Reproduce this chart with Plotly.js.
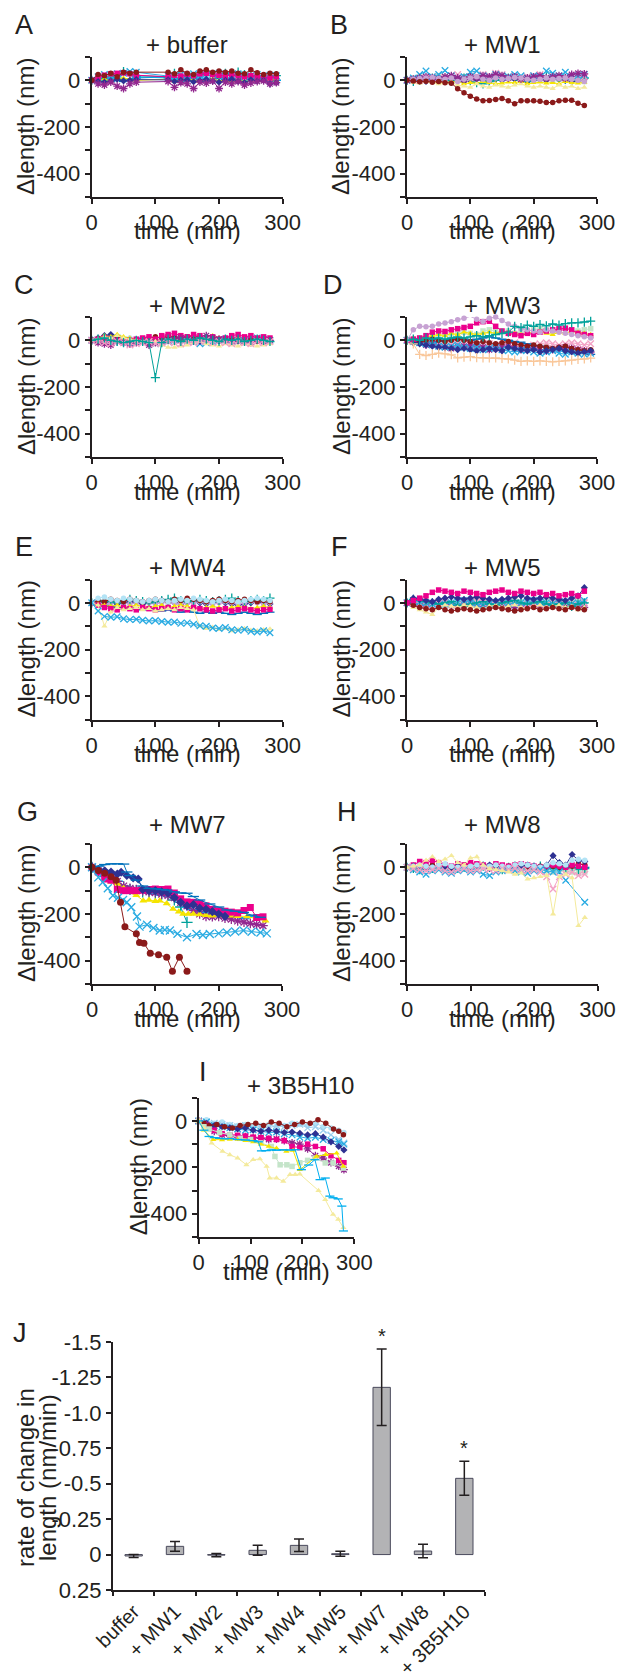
<!DOCTYPE html>
<html><head><meta charset="utf-8">
<script src="https://cdn.plot.ly/plotly-3.0.1.min.js"></script>
<style>html,body{margin:0;padding:0;background:#fff}#chart{width:621px;height:1673px}</style>
</head><body><div id="chart"></div>
<script>
// ---------------- time vectors (min) ----------------
const timeA = [0,10,20,30,40,50,60,70,120,130,140,150,160,170,180,190,200,210,220,230,240,250,260,270,280,290];
const time29 = [0,10,20,30,40,50,60,70,80,90,100,110,120,130,140,150,160,170,180,190,200,210,220,230,240,250,260,270,280];
const time30 = [0,10,20,30,40,50,60,70,80,90,100,110,120,130,140,150,160,170,180,190,200,210,220,230,240,250,260,270,280,290];
const time28 = [0,10,20,30,40,50,60,70,80,90,100,110,120,130,140,150,160,170,180,190,200,210,220,230,240,250,260,270];

// ---------------- A: + buffer (nm) ----------------
const aBlue = [0,-2,5,10,0,-5,5,10,15,5,-5,0,10,5,-5,0,10,-5,0,5,15,5,0,10,5,0];
const aSky  = [0,5,0,-5,10,5,-3,15,10,0,5,-5,10,15,0,5,-5,10,5,0,-5,10,0,5,-5,0];
const aTeal = [0,5,10,15,20,38,25,20,15,30,10,20,15,25,35,20,15,30,20,35,25,15,20,10,15,20];
const aYel  = [0,3,5,-2,8,10,5,0,5,-3,2,8,0,-5,3,6,-2,0,-8,2,-5,0,3,-2,5,0];
const aCyan = [0,15,25,20,28,30,38,35,20,15,25,20,28,22,18,25,30,20,22,28,15,20,25,18,22,20];
const aMag  = [0,12,22,28,30,32,28,22,15,22,18,25,20,28,30,25,22,18,24,20,15,20,18,12,10,15];
const aNav  = [0,-5,-8,-3,5,-2,0,3,2,-5,0,3,-6,-2,4,-3,-8,0,5,-4,-10,2,-3,0,-15,-10];
const aPur  = [0,-15,-20,-8,-25,-35,-15,-8,-5,-30,-10,-15,-35,-8,-12,-3,-35,-8,-15,-5,-20,-12,-5,-2,-15,-10];
const aBrn  = [0,25,20,30,15,35,30,35,35,28,45,30,25,40,45,35,40,35,40,30,28,45,32,25,30,28];

// ---------------- B: + MW1 ----------------
const bBrn  = [0,-3,-6,-4,-8,-5,-10,-12,-36,-53,-68,-80,-87,-86,-82,-78,-88,-100,-88,-88,-88,-90,-95,-95,-88,-85,-85,-98,-108];
const bLyel = [0,-10,-12,-5,-10,-15,-12,-10,-20,-25,-30,-15,-25,-30,-20,-25,-30,-20,-15,-25,-30,-25,-30,-35,-20,-30,-25,-35,-30];
const bCyan = [0,10,25,40,15,25,42,20,10,15,35,40,20,15,25,20,15,25,20,10,20,15,40,30,20,35,15,20,25];
const bPur  = [0,5,10,15,10,5,15,20,10,5,15,10,20,15,25,20,10,15,5,10,15,20,10,15,20,10,25,30,28];
const bLav  = [0,5,8,10,12,8,5,10,-5,5,10,15,5,0,10,5,8,12,10,5,0,5,10,5,8,10,5,0,-5];
const bYel  = [0,-5,-10,0,-5,-8,-10,-5,-5,-15,-10,-12,-5,-10,-15,-12,-8,-10,-5,-15,-10,-8,-12,-10,-15,-5,-10,-12,-8];
const bPink = [0,5,0,10,15,10,5,20,25,15,10,20,25,20,30,25,15,20,10,15,20,25,10,15,20,10,15,20,15];
const bTeal = [0,-5,0,5,10,5,0,-5,5,10,0,-10,-15,-5,0,5,10,5,0,-5,5,10,15,5,10,5,0,5,10];
const bNav  = [0,0,5,-5,0,5,10,0,5,-5,0,5,0,-5,5,0,10,5,0,-5,0,5,0,10,5,0,-5,0,5];
const bLgrn = [0,10,15,5,10,20,15,10,5,15,20,10,5,15,10,20,15,10,5,10,15,5,10,0,5,10,5,0,-5];

// ---------------- C: + MW2 ----------------
const cTeal  = [0,5,10,0,-5,-10,-5,0,-5,-10,-160,-10,5,0,-5,5,0,10,5,0,-5,5,0,5,-5,0,5,0,-5];
const cLyel  = [0,5,15,10,20,10,5,0,-5,-10,-5,-20,-30,-30,-25,-20,-10,-5,-15,-20,-25,-15,-20,-25,-15,-20,-25,-20,-15];
const cMag   = [0,5,10,5,0,-5,0,5,10,15,5,20,25,30,20,15,25,20,10,15,5,10,20,25,15,20,10,15,10];
const cNav   = [0,10,20,25,15,-10,-15,-5,0,5,0,5,10,5,-5,0,5,-5,0,5,-5,0,5,-5,0,5,0,-5,0];
const cYel   = [0,10,20,15,25,15,10,5,0,10,5,0,10,5,0,-5,5,10,15,20,10,0,5,10,0,5,-5,0,5];
const cBrn   = [0,5,0,-5,5,0,-5,0,5,10,15,10,20,15,10,15,20,10,5,10,5,0,5,0,5,0,-5,0,5];
const cPur   = [0,-10,-15,-20,-5,-10,-15,-10,-5,-20,-10,-5,0,5,10,5,0,5,20,10,5,0,-5,0,-5,-10,0,-5,0];
const cPink  = [0,-5,-10,-15,-5,-10,-20,-15,-10,-5,-15,-10,-5,-10,-15,-5,-10,-5,0,-10,-5,-10,-15,-5,-10,-15,-5,-10,-5];
const cLcyan = [0,5,10,5,0,5,10,5,0,5,0,5,10,5,0,5,0,-5,5,0,5,10,5,0,5,0,5,-5,0];
const cCyan  = [0,0,-5,5,10,0,-10,-5,0,-5,-15,-10,-5,0,5,0,-5,-15,-10,-5,0,5,0,-5,0,5,10,5,0];

// ---------------- D: + MW3 ----------------
const dTeal  = [0,5,0,10,5,10,5,10,15,10,15,20,15,20,25,30,35,60,55,65,60,68,62,70,65,72,75,75,78,82];
const dMag   = [0,5,10,20,35,40,38,45,50,55,60,75,80,82,60,40,30,25,20,30,25,35,40,45,50,52,45,30,25,20];
const dLav   = [0,45,60,58,60,70,74,80,88,95,103,90,81,95,100,85,70,60,50,45,40,35,45,40,35,30,25,20,15,10];
const dPeach = [0,-15,-60,-65,-60,-55,-58,-62,-75,-72,-70,-74,-75,-76,-75,-78,-80,-85,-90,-88,-90,-88,-90,-92,-90,-88,-85,-82,-80,-76];
const dNav   = [0,-10,-15,-20,-25,-30,-30,-35,-40,-35,-40,-45,-40,-35,-40,-45,-30,-35,-40,-45,-40,-50,-45,-40,-35,-45,-50,-55,-50,-45];
const dBrn   = [0,-5,-10,0,5,0,-5,0,5,0,-5,-10,-5,-10,-15,-10,-5,-15,-20,-25,-20,-25,-30,-35,-30,-25,-35,-40,-45,-40];
const dYel   = [0,10,5,15,20,25,20,30,25,35,30,25,30,35,30,40,35,30,25,30,35,40,30,25,35,30,40,35,30,25];
const dLgrn  = [0,5,10,15,20,15,25,20,30,35,30,25,40,45,40,35,40,30,35,40,45,50,45,40,45,50,45,40,45,50];
const dCyan  = [0,-5,-10,-15,-20,-25,-30,-25,-20,-30,-35,-30,-40,-35,-30,-40,-45,-50,-45,-40,-50,-55,-50,-45,-55,-60,-50,-55,-60,-55];
const dPur   = [0,-5,-10,-20,-15,-25,-30,-35,-30,-25,-20,-25,-30,-40,-35,-30,-25,-35,-40,-30,-35,-40,-45,-40,-35,-30,-35,-40,-45,-50];
const dBlue  = [0,5,0,-5,-10,-5,0,5,10,5,0,5,10,15,10,5,0,-5,-8,-15,-22,-25,-30,-38,-40,-42,-50,-55,-52,-60];
const dPink  = [0,-5,-8,-10,-15,-12,-20,-15,-10,-15,-20,-25,-20,-15,-25,-20,-15,-10,-20,-25,-20,-15,-10,-15,-20,-15,-10,-15,-20,-15];

// ---------------- E: + MW4 ----------------
const eCyan  = [0,-35,-58,-62,-60,-68,-72,-70,-75,-78,-76,-80,-83,-82,-88,-86,-92,-98,-100,-108,-110,-106,-115,-118,-114,-122,-125,-120,-128];
const eLyel  = [0,-10,-100,-40,-20,-30,-25,-20,-30,-25,-35,-30,-25,-30,-20,-25,-30,-100,-110,-105,-115,-110,-120,-115,-110,-118,-120,-115,-112];
const eMag   = [0,-10,-20,-25,-30,-20,-25,-30,-20,-25,-30,-25,-20,-30,-25,-30,-20,-25,-30,-35,-30,-25,-35,-30,-25,-30,-35,-30,-28];
const eYel   = [0,-5,-10,-15,-10,-20,-15,-10,-15,-20,-15,-10,-20,-15,-10,-15,-20,-25,-20,-15,-20,-25,-20,-15,-20,-25,-20,-15,-20];
const eBrn   = [0,10,5,15,10,5,15,10,5,10,15,10,5,15,10,20,15,10,5,10,15,10,5,10,15,10,5,10,5];
const eTeal  = [0,5,10,5,0,10,15,10,5,0,5,10,15,20,10,5,10,15,10,5,10,15,20,10,5,10,15,10,20];
const eLav   = [0,0,-5,0,5,0,-5,0,5,0,-5,0,5,0,-5,0,0,5,0,-5,0,5,0,-5,0,5,0,-5,0];
const eLcyan = [0,20,25,15,10,20,15,10,5,10,15,10,5,10,15,10,20,15,10,5,10,15,10,5,10,15,20,15,10];
const eNav   = [0,-5,0,5,-5,0,5,0,-5,0,5,10,5,0,-5,0,5,0,-5,0,5,0,-5,-10,-5,0,5,0,-5];
const eBlue  = [0,-5,-10,-15,-20,-25,-20,-25,-30,-25,-30,-35,-30,-35,-40,-35,-40,-45,-40,-45,-40,-45,-50,-45,-40,-45,-50,-45,-40];

// ---------------- F: + MW5 ----------------
const fMag  = [0,10,20,30,45,55,50,45,40,50,45,40,35,45,50,55,45,40,50,45,40,45,35,40,30,35,40,30,50];
const fBrn  = [0,-10,-20,-25,-30,-20,-30,-35,-30,-25,-30,-35,-30,-25,-20,-25,-30,-35,-30,-25,-20,-30,-25,-20,-25,-30,-20,-25,-30];
const fLyel = [0,-20,-30,-40,-50,-20,-10,-15,-20,-10,-15,-20,-25,-15,-10,-20,-15,-10,-20,-25,-15,-10,-20,-15,-10,-20,-15,-30,-20];
const fNav  = [0,20,15,10,5,15,20,25,20,15,20,25,20,15,10,15,20,25,30,20,15,20,25,20,15,10,20,30,65];
const fTeal = [0,15,10,5,0,-5,0,5,-10,-15,-5,0,5,-5,-10,0,5,10,0,-5,0,5,-5,-10,-5,0,-15,-5,0];
const fCyan = [0,10,5,0,-5,-10,-5,0,5,10,0,-5,-10,-5,0,5,0,-5,0,5,10,5,0,-5,0,5,-5,0,10];
const fPink = [0,5,-5,-10,-15,-5,0,-5,-10,-5,0,5,0,-5,-10,0,5,0,-10,-5,0,-5,-10,0,5,0,-5,-10,0];
const fPur  = [0,-5,-10,-5,0,5,-5,-10,-15,-10,-5,-10,-15,-10,-5,-10,-15,-20,-15,-10,-5,-10,-15,-10,-5,-10,-15,-10,-20];
const fLgrn = [0,5,10,5,0,10,5,0,5,10,15,10,5,10,5,0,5,10,5,0,5,10,15,10,5,0,5,10,5];
const fYel  = [0,5,0,-5,0,5,10,5,0,-5,0,5,0,10,5,0,-5,0,5,0,-5,0,5,10,5,0,-5,0,5];

// ---------------- G: + MW7 ----------------
const gBrnT  = [0,10,20,30,38,45,52,70,75,82,92,105,118,127,138,150];
const gBrnV  = [0,-14,-25,-40,-55,-150,-255,-285,-322,-325,-368,-375,-385,-445,-385,-445];
const gCyanT = [0,10,17,25,33,41,49,55,62,71,75,87,97,107,115,123,135,150,165,175,186,200,213,226,239,252,266,276];
const gCyanV = [0,-43,-64,-90,-121,-130,-140,-150,-171,-211,-254,-246,-260,-271,-268,-271,-285,-300,-286,-290,-286,-283,-279,-275,-271,-276,-279,-283];
const gNavLT = [0,10,20,30,40,50,55,60,70,80,90,100,110,118,130,140,150,160,170,186,200,213,226,239,252,266];
const gNavLV = [0,5,12,15,15,14,-20,-35,-55,-80,-90,-92,-95,-97,-105,-110,-111,-125,-140,-157,-170,-183,-188,-193,-205,-214];
const gNavDT = [0,10,20,30,40,46,55,65,73,80,90,100,110,120,130,140,150,160,170,180,190,200,210];
const gNavDV = [0,-10,-15,-20,-29,-21,-35,-45,-50,-95,-100,-100,-105,-110,-130,-150,-165,-160,-175,-180,-190,-200,-210];
const gMagV  = [0,-20,-50,-55,-95,-100,-100,-100,-98,-95,-93,-95,-93,-110,-135,-148,-150,-155,-165,-180,-186,-188,-192,-195,-185,-172,-215,-212];
const gYelT  = [0,10,20,30,40,50,57,70,81,90,100,107,118,128,137,144,152,160,170,180,189,200,210,218,230,245,260,274];
const gYelV  = [0,-10,-30,-62,-70,-90,-107,-120,-143,-140,-145,-143,-155,-179,-190,-200,-200,-200,-202,-205,-207,-205,-208,-207,-210,-211,-220,-229];
const gPurV  = [0,-15,-25,-40,-60,-80,-90,-95,-100,-105,-108,-115,-120,-130,-150,-165,-185,-200,-210,-212,-210,-218,-222,-230,-235,-240,-245,-250];
const gTealT = [0,10,20,30,40,50,60,70,80,90,100,110,120,130,140,150];
const gTealV = [0,-15,-30,-45,-60,-85,-95,-100,-105,-110,-112,-115,-120,-140,-170,-236];
const gSkyT  = [0,10,20,30,40,50,60,70,80,90,100,110,120,130,140,150,160,170,180,190,200,210,220,230,240,250];
const gSkyV  = [0,-20,-40,-55,-60,-80,-95,-100,-105,-110,-115,-120,-125,-130,-150,-170,-180,-190,-195,-200,-202,-205,-210,-215,-220,-210];

// ---------------- H: + MW8 ----------------
const hLyel  = [0,5,10,30,45,25,35,50,20,10,40,45,10,-5,-10,-15,-20,-30,-25,-50,-45,-40,-35,-200,-40,-30,-45,-250,-215];
const hPink  = [0,-5,-10,-15,-10,-5,-15,-20,-10,-5,-15,-10,-5,-10,-15,-5,-10,-5,-10,-15,-10,-20,-40,-93,-40,-30,-20,-35,-30];
const hCyanT = [0,10,20,30,40,50,60,70,80,90,100,110,120,130,140,150,160,170,180,190,200,210,220,230,240,250,280];
const hCyanV = [0,-10,-20,-30,-15,-10,-20,-25,-15,-10,-20,-15,-30,-35,-20,-15,-10,-15,-20,-25,-15,-10,-15,-20,-20,-55,-150];
const hNav   = [0,5,0,-5,0,5,-5,0,5,0,-5,0,5,10,5,0,-5,0,5,10,5,0,10,50,20,10,55,30,25];
const hMag   = [0,10,25,20,30,20,10,5,15,10,20,15,10,5,15,10,5,10,15,10,5,0,5,10,5,0,10,5,0];
const hBrn   = [0,5,-5,0,10,5,0,-5,5,10,15,5,0,-5,5,0,5,10,5,0,-5,5,0,5,0,10,5,15,10];
const hTeal  = [0,-5,-10,0,-5,5,0,-10,-5,0,-5,0,5,0,-5,-10,0,5,0,-5,0,5,0,-5,-10,-5,0,-10,-5];
const hLgrn  = [0,-5,0,5,0,-5,-10,-5,0,5,0,-5,0,5,10,5,0,-5,-10,-15,-10,-5,-15,-20,-10,-15,-20,-25,-20];
const hLcyan = [0,5,10,5,0,10,15,5,0,-5,5,10,0,5,10,5,0,10,15,10,5,0,10,20,15,10,30,35,30];
const hBlue  = [0,-5,0,5,-5,0,-10,-5,0,5,0,-5,0,-5,0,5,-5,0,5,0,-5,0,5,-5,0,5,0,-5,0];

// ---------------- I: + 3B5H10 ----------------
const timeI  = [0,15,30,45,60,75,90,105,120,135,150,165,180,195,210,225,240,255,270,280];
const iMag   = [0,-20,-40,-55,-60,-62,-65,-70,-72,-75,-80,-85,-110,-115,-100,-110,-120,-150,-170,-180];
const iNav   = [0,-10,-20,-25,-30,-35,-30,-40,-45,-40,-45,-50,-48,-53,-60,-55,-70,-90,-110,-125];
const iPur   = [0,-15,-45,-60,-65,-70,-68,-72,-75,-80,-78,-85,-95,-100,-120,-150,-160,-180,-195,-210];
const iPblue = [0,-5,-10,-15,-20,-25,-20,-30,-25,-30,-20,-25,-20,-15,-30,-25,-40,-60,-80,-95];
const iLcyan = [0,5,-10,-5,-15,-20,-15,-25,-20,-15,-25,-20,-10,-15,-20,-10,-25,-30,-40,-50];
const iCyan  = [0,-5,-20,-25,-30,-35,-40,-38,-45,-50,-48,-55,-60,-70,-75,-70,-80,-85,-90,-100];
const iBrnT  = [0,10,20,35,50,65,80,95,110,125,140,155,170,185,200,215,230,245,260,270,279];
const iBrnV  = [0,-10,-20,-15,-25,-30,-20,-15,-10,-20,-5,-10,-25,-15,-5,-10,5,-10,-35,-45,-60];
const iLgrnT = [0,10,20,40,60,80,100,120,140,147,157,170,180,195,210,224,244,259,279];
const iLgrnV = [0,-25,-35,-50,-60,-75,-80,-95,-110,-153,-189,-189,-196,-180,-170,-160,-181,-181,-203];
const iYelT  = [0,10,28,45,60,75,90,105,120,135,150,169,182,195,227,245,266,279];
const iYelV  = [0,-40,-81,-82,-80,-80,-85,-90,-100,-110,-118,-131,-127,-210,-153,-145,-139,-196];
const iLyelT = [0,10,25,46,60,75,92,105,118,131,137,150,163,176,186,195,231,244,259,269,279];
const iLyelV = [0,-30,-96,-131,-146,-160,-189,-167,-164,-196,-246,-246,-260,-231,-231,-229,-300,-339,-403,-424,-460];
const iBlueT = [0,10,20,30,40,50,60,75,90,105,115,121,130,140,150,163,176,186,198,212,224,234,244,253,259,269,276,279];
const iBlueV = [0,-40,-67,-72,-75,-77,-76,-80,-82,-85,-90,-129,-128,-125,-126,-124,-125,-124,-210,-190,-167,-253,-246,-324,-331,-336,-367,-474];

// ---------------- J: rate of change (nm/min) ----------------
const jCats = ['buffer','+ MW1','+ MW2','+ MW3','+ MW4','+ MW5','+ MW7','+ MW8','+ 3B5H10'];
const jRate = [0.01,-0.058,0.004,-0.03,-0.065,-0.006,-1.18,-0.025,-0.538];
const jErr  = [0.01,0.034,0.012,0.035,0.044,0.018,0.27,0.047,0.12];
const jStar = ['','','','','','','*','','*'];

// ---------------- labels ----------------
const panelTitles = ['+ buffer','+ MW1','+ MW2','+ MW3','+ MW4','+ MW5','+ MW7','+ MW8','+ 3B5H10'];
const panelLetters = ['A','B','C','D','E','F','G','H','I','J'];
const yTickVals = [100,0,-100,-200,-300,-400,-500];
const yTickText = ['','0','','-200','','-400',''];
const xTickVals = [0,100,200,300];
const jTickVals = [-1.5,-1.25,-1.0,-0.75,-0.5,-0.25,0,0.25];
const jTickText = ['-1.5','-1.25','-1.0','-0.75','-0.5','-0.25','0','0.25'];

// ---------------- styles ----------------
const STY = {
  nav:{c:'#2e3192',s:'diamond'}, mag:{c:'#ec008c',s:'square'}, yel:{c:'#f5e400',s:'triangle-up'},
  cyan:{c:'#29abe2',s:'x-thin-open'}, pur:{c:'#92278f',s:'asterisk-open'}, brn:{c:'#8b1a1a',s:'circle'},
  teal:{c:'#00a19a',s:'cross-thin-open'}, blue:{c:'#0071bc',s:'line-ew-open'}, sky:{c:'#00aeef',s:'line-ew-open'},
  lcyan:{c:'#b3e3f5',s:'circle'}, lgrn:{c:'#c4e4c9',s:'square'}, lyel:{c:'#f4ea9c',s:'triangle-up'},
  pblue:{c:'#9ccfee',s:'x-thin-open'}, pink:{c:'#f3a0c4',s:'x-thin-open'}, lav:{c:'#c7a2d3',s:'circle'},
  peach:{c:'#f9c79a',s:'cross-thin-open'}
};

const W = 621, H = 1673;
const fx = p => p / W;
const fy = p => 1 - p / H;

// panel boxes in px: [x0, x1, yTop, yBottom]
const boxes = [
  [91.7,282.7,57,197],[407,597,57,197],
  [91.7,282.7,317,457],[407,597,317,457],
  [91.7,282.7,579.5,719.5],[407,597,579.5,719.5],
  [92,282,844,984],[407,597.5,844,984],
  [198.7,354.3,1097.7,1237],
  [113,485,1342,1590]
];

const panels = [
  [[timeA,aBlue,'blue'],[timeA,aSky,'sky'],[timeA,aTeal,'teal'],[timeA,aYel,'yel'],[timeA,aCyan,'cyan'],[timeA,aMag,'mag'],[timeA,aNav,'nav'],[timeA,aPur,'pur'],[timeA,aBrn,'brn']],
  [[time29,bLgrn,'lgrn'],[time29,bNav,'nav'],[time29,bTeal,'teal'],[time29,bYel,'yel'],[time29,bLyel,'lyel'],[time29,bPink,'pink'],[time29,bCyan,'cyan'],[time29,bPur,'pur'],[time29,bLav,'lav'],[time29,bBrn,'brn']],
  [[time29,cLcyan,'lcyan'],[time29,cCyan,'cyan'],[time29,cNav,'nav'],[time29,cYel,'yel'],[time29,cBrn,'brn'],[time29,cMag,'mag'],[time29,cPur,'pur'],[time29,cLyel,'lyel'],[time29,cPink,'pink'],[time29,cTeal,'teal']],
  [[time30,dPink,'pink'],[time30,dBlue,'blue'],[time30,dPur,'pur'],[time30,dCyan,'cyan'],[time30,dLgrn,'lgrn'],[time30,dYel,'yel'],[time30,dBrn,'brn'],[time30,dNav,'nav'],[time30,dPeach,'peach'],[time30,dMag,'mag'],[time30,dLav,'lav'],[time30,dTeal,'teal']],
  [[time29,eBlue,'blue'],[time29,eNav,'nav'],[time29,eLav,'lav'],[time29,eTeal,'teal'],[time29,eBrn,'brn'],[time29,eYel,'yel'],[time29,eMag,'mag'],[time29,eLyel,'lyel'],[time29,eLcyan,'lcyan'],[time29,eCyan,'cyan']],
  [[time29,fYel,'yel'],[time29,fLgrn,'lgrn'],[time29,fPur,'pur'],[time29,fPink,'pink'],[time29,fCyan,'cyan'],[time29,fTeal,'teal'],[time29,fLyel,'lyel'],[time29,fBrn,'brn'],[time29,fNav,'nav'],[time29,fMag,'mag']],
  [[gTealT,gTealV,'teal'],[gSkyT,gSkyV,'sky'],[time28,gPurV,'pur'],[gYelT,gYelV,'yel'],[time28,gMagV,'mag'],[gNavDT,gNavDV,'nav'],[gNavLT,gNavLV,'blue'],[gCyanT,gCyanV,'cyan'],[gBrnT,gBrnV,'brn']],
  [[time29,hBlue,'blue'],[time29,hLgrn,'lgrn'],[time29,hTeal,'teal'],[time29,hBrn,'brn'],[time29,hMag,'mag'],[time29,hNav,'nav'],[time29,hLcyan,'lcyan'],[hCyanT,hCyanV,'cyan'],[time29,hPink,'pink'],[time29,hLyel,'lyel']],
  [[timeI,iLcyan,'lcyan'],[timeI,iPblue,'pblue'],[timeI,iCyan,'cyan'],[timeI,iNav,'nav'],[timeI,iPur,'pur'],[timeI,iMag,'mag'],[iBrnT,iBrnV,'brn'],[iLgrnT,iLgrnV,'lgrn'],[iYelT,iYelV,'yel'],[iLyelT,iLyelV,'lyel'],[iBlueT,iBlueV,'sky']]
];
const markerSize = [5.5,5.5,5.5,5.5,5.5,5.5,7,5.5,5.5];

const FONT = 'Liberation Sans, Arial, Helvetica, sans-serif';
const INK = '#231f20';

const traces = [];
const layout = {
  width: W, height: H, margin:{l:0,r:0,t:0,b:0}, showlegend:false,
  paper_bgcolor:'#ffffff', plot_bgcolor:'rgba(0,0,0,0)',
  font:{family:FONT, color:INK, size:22}, annotations:[]
};

function ann(text, x, y, size, extra){
  layout.annotations.push(Object.assign({xref:'paper',yref:'paper',x:fx(x),y:fy(y),text:text,showarrow:false,
    font:{family:FONT,size:size,color:INK},xanchor:'center',yanchor:'middle'}, extra||{}));
}

panels.forEach((series, i) => {
  const n = i + 1;
  const xa = n === 1 ? 'x' : 'x' + n, ya = n === 1 ? 'y' : 'y' + n;
  const b = boxes[i];
  layout[n === 1 ? 'xaxis' : 'xaxis' + n] = {
    domain:[fx(b[0]), fx(b[1])], range:[0,300], tickvals:xTickVals, ticks:'outside', ticklen:5, tickwidth:2,
    tickcolor:INK, showline:true, linewidth:2, linecolor:INK, showgrid:false, zeroline:false,
    tickfont:{size:22}, anchor:ya, fixedrange:true
  };
  layout[n === 1 ? 'yaxis' : 'yaxis' + n] = {
    domain:[fy(b[3]), fy(b[2])], range:[-500,100], tickvals:yTickVals, ticktext:yTickText, ticks:'outside',
    ticklen:5, tickwidth:2, tickcolor:INK, showline:true, linewidth:2, linecolor:INK, showgrid:false,
    zeroline:false, tickfont:{size:22}, anchor:xa, fixedrange:true
  };
  series.forEach(s => {
    const st = STY[s[2]];
    const open = st.s.indexOf('open') >= 0;
    traces.push({
      type:'scatter', mode:'lines+markers', x:s[0], y:s[1], xaxis:xa, yaxis:ya, cliponaxis:false,
      line:{color:st.c, width:1}, hoverinfo:'skip',
      marker:{symbol:st.s, size: open ? markerSize[i]+1 : markerSize[i], color:st.c,
        line:{color:st.c, width: open ? 1.3 : 0}}
    });
  });
  // panel title and axis titles
  const cx = (b[0] + b[1]) / 2, cy = (b[2] + b[3]) / 2;
  const titleGap = (i === 6 || i === 7) ? 19 : 12;
  ann(panelTitles[i], i === 8 ? 300 : cx, b[2] - titleGap, 24);
  ann('time (min)', cx, b[3] + 34, 24);
  const ytx = i === 8 ? 138 : (i % 2 === 0 ? 26 : 341);
  ann('Δlength (nm)', ytx, cy, 24, {textangle:-90});
});

// panel letters
const letterPos = [[24,25],[339,25],[24,285],[333,285],[24,547],[339,547],[27,812],[347,812],[203,1072],[20,1333]];
letterPos.forEach((p, k) => ann(panelLetters[k], p[0], p[1], 27));

// J bar chart
const bj = boxes[9];
traces.push({
  type:'bar', x:jCats, y:jRate, xaxis:'x10', yaxis:'y10', width:0.42, hoverinfo:'skip',
  marker:{color:'#b3b3b5', line:{color:'#4a4a5c', width:1}},
  error_y:{type:'data', array:jErr, visible:true, color:INK, thickness:1.5, width:5}
});
layout.xaxis10 = {domain:[fx(bj[0]), fx(bj[1])], type:'category', tickson:'boundaries', ticks:'outside', ticklen:4,
  tickwidth:2, tickcolor:INK, tickangle:-45, showline:true, linewidth:2, linecolor:INK, showgrid:false,
  zeroline:false, tickfont:{size:20}, anchor:'y10', fixedrange:true, range:[-0.5,8.5]};
layout.yaxis10 = {domain:[fy(bj[3]), fy(bj[2])], range:[0.25,-1.5], tickvals:jTickVals, ticktext:jTickText,
  ticks:'outside', ticklen:5, tickwidth:2, tickcolor:INK, showline:true, linewidth:2, linecolor:INK,
  showgrid:false, zeroline:false, tickfont:{size:22}, anchor:'x10', fixedrange:true};
jCats.forEach((c, k) => {
  if (jStar[k]) layout.annotations.push({xref:'x10', yref:'y10', x:c, y:jRate[k] - jErr[k], text:jStar[k],
    showarrow:false, yanchor:'bottom', xanchor:'center', font:{family:FONT, size:20, color:INK}});
});
ann('rate of change in', 25, 1478, 24, {textangle:-90});
ann('length (nm/min)', 47, 1478, 24, {textangle:-90});

Plotly.newPlot('chart', traces, layout, {staticPlot:true, displayModeBar:false});
</script></body></html>
